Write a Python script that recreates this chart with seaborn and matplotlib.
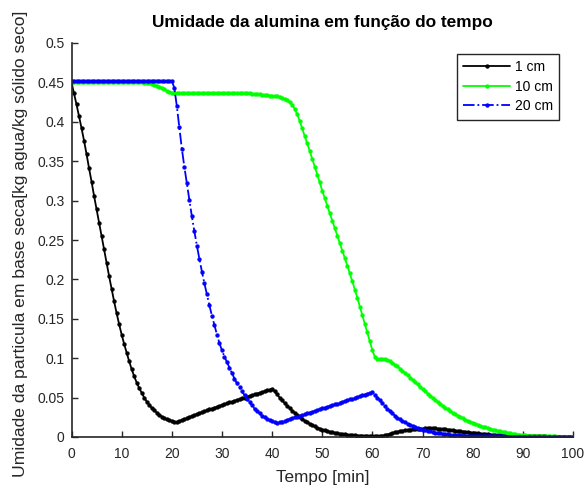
import numpy as np
import matplotlib
matplotlib.use("Agg")
import matplotlib.pyplot as plt
from matplotlib.ticker import FuncFormatter
import seaborn as sns

# Tempo de secagem [min], passo de 0.5 min
tempo = np.linspace(0, 100, 201)

# Umidade em base seca [kg agua / kg solido seco] para cada espessura
umidade_1cm = [
    .450, .436, .422, .407, .392, .376, .359, .341, .324, .306,
    .289, .272, .255, .238, .221, .204, .188, .172, .157, .143,
    .130, .118, .107, .096, .086, .077, .069, .062, .056, .050,
    .045, .041, .037, .034, .031, .028, .026, .024, .0225, .021,
    .020, .0195, .019, .0202, .0215, .0228, .0241, .0254, .0267, .0279,
    .0291, .0303, .0315, .0327, .0338, .0350, .0361, .0372, .0383, .0394,
    .0405, .0416, .0427, .0438, .0449, .0459, .0470, .0480, .0491, .0501,
    .0511, .0521, .0531, .0541, .0551, .0561, .0571, .0581, .0591, .0601,
    .0612, .0580, .0540, .0500, .0465, .0430, .0398, .0366, .0335, .0305,
    .0277, .0251, .0227, .0205, .0185, .0167, .0150, .0134, .0120, .0107,
    .0095, .0085, .0076, .0067, .0060, .0053, .0047, .0042, .0037, .0033,
    .0029, .0026, .0023, .0021, .0019, .0017, .0016, .0015, .0014, .0013,
    .0013, .0013, .0013, .0014, .0017, .0023, .0031, .0041, .0051, .0060,
    .0068, .0075, .0081, .0086, .0091, .0095, .0098, .0101, .0103, .0105,
    .0107, .0108, .0109, .0109, .0109, .0108, .0106, .0104, .0101, .0098,
    .0094, .0090, .0086, .0082, .0078, .0073, .0069, .0065, .0061, .0057,
    .0053, .0050, .0046, .0043, .0040, .0037, .0034, .0031, .0029, .0026,
    .0024, .0022, .0020, .0018, .0017, .0015, .0014, .0013, .0012, .0011,
    .0010, .0010, .0009, .0009, .0008, .0008, .0008, .0007, .0007, .0007,
    .0006, .0006, .0006, .0006, .0005, .0005, .0005, .0005, .0005, .0004,
    .0004,
]

umidade_10cm = [
    .450, .450, .450, .450, .450, .450, .450, .450, .450, .450,
    .450, .450, .450, .450, .450, .450, .450, .450, .450, .450,
    .450, .450, .450, .450, .450, .450, .450, .450, .450, .4498,
    .4495, .4490, .4483, .4473, .4460, .4445, .4428, .4410, .4393, .4380,
    .4370, .4365, .4362, .4361, .4360, .4360, .4360, .4360, .4360, .4360,
    .4360, .4360, .4360, .4360, .4360, .4360, .4360, .4360, .4360, .4360,
    .4360, .4360, .4360, .4360, .4360, .4360, .4360, .4360, .4360, .4360,
    .4360, .4360, .4358, .4355, .4352, .4348, .4344, .4340, .4336, .4333,
    .4330, .4327, .4323, .4315, .4300, .4288, .4272, .4250, .4215, .4165,
    .4095, .4010, .3915, .3820, .3725, .3630, .3530, .3430, .3330, .3230,
    .3125, .3030, .2935, .2840, .2745, .2650, .2555, .2460, .2365, .2270,
    .2175, .2075, .1975, .1870, .1765, .1655, .1550, .1440, .1330, .1215,
    .1100, .1015, .0985, .0985, .0988, .0987, .0978, .0962, .0942, .0920,
    .0895, .0868, .0840, .0812, .0783, .0754, .0725, .0696, .0667, .0638,
    .0609, .0580, .0552, .0524, .0497, .0470, .0444, .0419, .0395, .0372,
    .0350, .0329, .0309, .0290, .0272, .0255, .0238, .0222, .0207, .0193,
    .0180, .0167, .0155, .0143, .0132, .0122, .0112, .0103, .0094, .0086,
    .0078, .0071, .0064, .0058, .0052, .0046, .0040, .0035, .0031, .0027,
    .0024, .0021, .0019, .0017, .0015, .0013, .0012, .0011, .0010, .0009,
    .0008, .0008, .0007, .0007, .0006, .0006, .0006, .0005, .0005, .0005,
    .0004,
]

umidade_20cm = [
    .452, .452, .452, .452, .452, .452, .452, .452, .452, .452,
    .452, .452, .452, .452, .452, .452, .452, .452, .452, .452,
    .452, .452, .452, .452, .452, .452, .452, .452, .452, .452,
    .452, .452, .452, .452, .452, .452, .452, .452, .452, .452,
    .452, .443, .420, .393, .366, .343, .322, .301, .280, .261,
    .243, .226, .210, .195, .181, .167, .154, .142, .130, .119,
    .110, .102, .095, .088, .081, .074, .068, .063, .058, .053,
    .048, .044, .040, .036, .033, .030, .027, .025, .023, .0215,
    .0200, .0185, .0175, .0185, .0196, .0206, .0217, .0227, .0237, .0248,
    .0258, .0269, .0279, .0289, .0300, .0310, .0321, .0331, .0341, .0352,
    .0362, .0373, .0383, .0393, .0404, .0414, .0425, .0435, .0445, .0456,
    .0466, .0477, .0487, .0497, .0508, .0518, .0529, .0539, .0549, .0560,
    .0570, .0535, .0500, .0465, .0430, .0390, .0360, .0330, .0300, .0270,
    .0245, .0225, .0205, .0185, .0170, .0155, .0140, .0127, .0115, .0104,
    .0094, .0085, .0077, .0070, .0063, .0057, .0051, .0046, .0042, .0038,
    .0034, .0031, .0028, .0025, .0023, .0021, .0019, .0017, .0016, .0014,
    .0013, .0012, .0011, .0010, .0010, .0009, .0009, .0008, .0008, .0008,
    .0007, .0007, .0007, .0006, .0006, .0006, .0006, .0005, .0005, .0005,
    .0005, .0005, .0004, .0004, .0004, .0004, .0004, .0004, .0003, .0003,
    .0003, .0003, .0003, .0003, .0003, .0003, .0002, .0002, .0002, .0002,
    .0002,
]

rotulos = ["1 cm", "10 cm", "20 cm"]
xticks = [0, 10, 20, 30, 40, 50, 60, 70, 80, 90, 100]
yticks = [0, 0.05, 0.1, 0.15, 0.2, 0.25, 0.3, 0.35, 0.4, 0.45, 0.5]

sns.set_theme(style="ticks")
plt.rcParams["font.family"] = ["Liberation Sans", "DejaVu Sans"]

W, H = 587, 488
fig = plt.figure(figsize=(W / 100, H / 100), dpi=100)
x0, x1, y0, y1 = 71.5, 573.0, 43.0, 437.0
ax = fig.add_axes([x0 / W, 1 - y1 / H, (x1 - x0) / W, (y1 - y0) / H])

estilos = [
    (umidade_1cm, "#000000", "-"),
    (umidade_10cm, "#00ff00", "-"),
    (umidade_20cm, "#0000ff", "-."),
]
for rotulo, (valores, cor, ls) in zip(rotulos, estilos):
    sns.lineplot(x=tempo, y=valores, ax=ax, color=cor, linestyle=ls,
                 linewidth=1.3, marker=".", markersize=5.5,
                 markeredgecolor=cor, markeredgewidth=0.3,
                 label=rotulo, estimator=None, sort=False)

cinza = "#262626"
ax.set_xlim(0, 100)
ax.set_ylim(0, 0.5)
ax.set_xticks(xticks)
ax.set_yticks(yticks)
ax.yaxis.set_major_formatter(FuncFormatter(lambda v, p: f"{v:g}"))
ax.xaxis.set_major_formatter(FuncFormatter(lambda v, p: f"{v:g}"))
for lado in ("top", "right"):
    ax.spines[lado].set_visible(False)
for lado in ("left", "bottom"):
    ax.spines[lado].set_color(cinza)
    ax.spines[lado].set_linewidth(1.2)
ax.tick_params(direction="in", length=4, width=1, colors=cinza, labelsize=10)
ax.tick_params(axis="x", pad=7)
ax.tick_params(axis="y", pad=5)

ax.set_xlabel("Tempo [min]", fontsize=12.3, color=cinza)
ax.xaxis.set_label_coords(0.5, -0.083)
ax.set_ylabel("Umidade da particula em base seca[kg agua/kg sólido seco]",
              fontsize=12.6, color=cinza)
ax.yaxis.set_label_coords(-0.087, 0.49)

fig.text((x0 + x1) / 2 / W, 1 - 23 / H,
         "Umidade da alumina em função do tempo",
         ha="center", va="center", fontsize=12.4, fontweight="bold", color="#000000")

leg = ax.legend(loc="upper right", bbox_to_anchor=(559 / W, 1 - 54 / H),
                bbox_transform=fig.transFigure, borderaxespad=0,
                frameon=True, fancybox=False, framealpha=1, edgecolor=cinza,
                fontsize=10, handlelength=3.4, handletextpad=0.3,
                labelspacing=0.4, borderpad=0.45, numpoints=1)
leg.get_frame().set_linewidth(1.0)
for txt in leg.get_texts():
    txt.set_color("#000000")

fig.savefig("out.png", dpi=100)
